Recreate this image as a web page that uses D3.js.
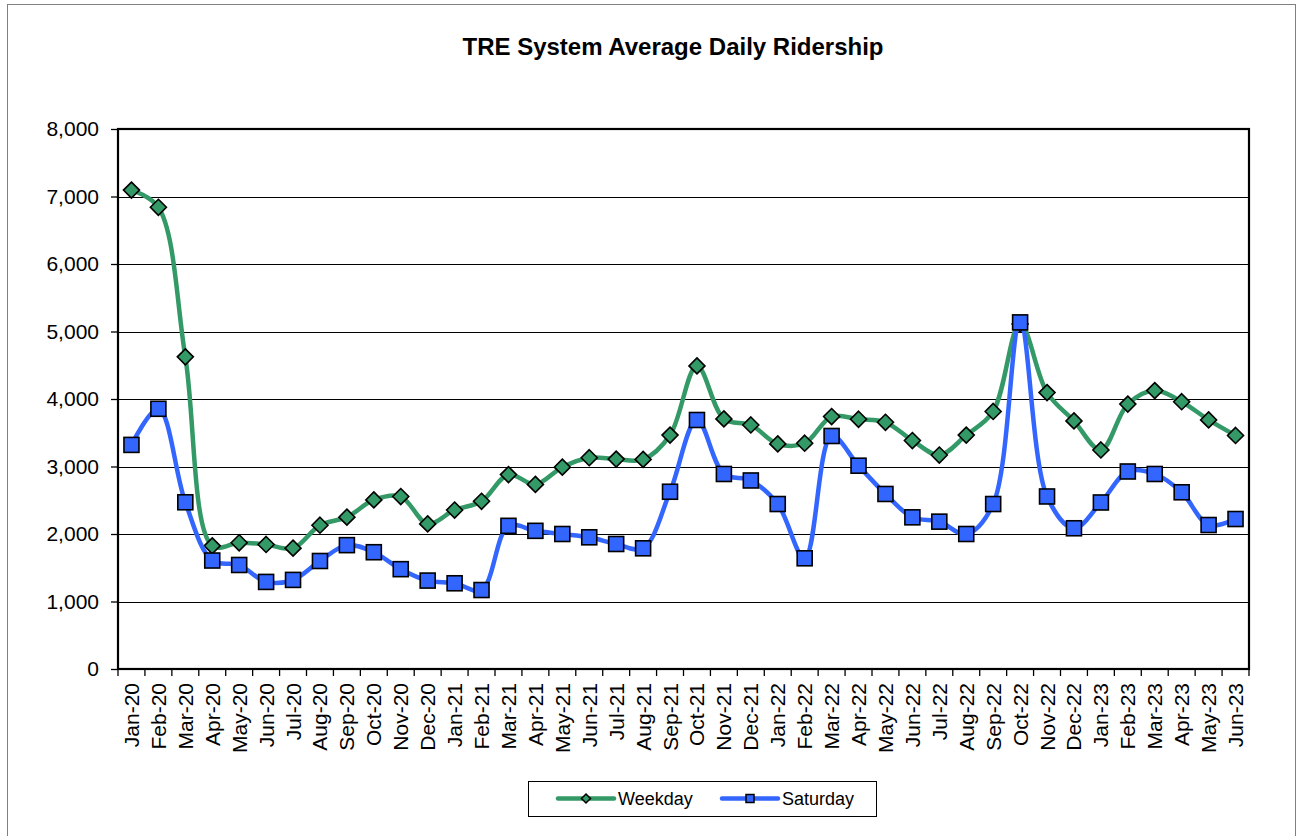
<!DOCTYPE html>
<html><head><meta charset="utf-8">
<script src="https://cdn.jsdelivr.net/npm/d3@7"></script>
<style>
body{margin:0;background:#fff}
svg{display:block}
text{font-family:"Liberation Sans",Arial,sans-serif;fill:#000}
</style></head>
<body>
<svg id="c" width="1302" height="836"></svg>
<script>
const months = ["Jan-20","Feb-20","Mar-20","Apr-20","May-20","Jun-20","Jul-20","Aug-20","Sep-20","Oct-20","Nov-20","Dec-20",
"Jan-21","Feb-21","Mar-21","Apr-21","May-21","Jun-21","Jul-21","Aug-21","Sep-21","Oct-21","Nov-21","Dec-21",
"Jan-22","Feb-22","Mar-22","Apr-22","May-22","Jun-22","Jul-22","Aug-22","Sep-22","Oct-22","Nov-22","Dec-22",
"Jan-23","Feb-23","Mar-23","Apr-23","May-23","Jun-23"];
const weekday = [7095,6840,4625,1825,1870,1845,1790,2130,2250,2505,2555,2150,
2355,2485,2880,2735,2990,3130,3110,3105,3465,4490,3705,3615,
3335,3345,3740,3700,3655,3385,3170,3465,3815,5110,4095,3675,
3245,3925,4125,3960,3690,3460];
const saturday = [3320,3855,2470,1607,1541,1290,1320,1600,1835,1730,1479,1310,
1270,1170,2121,2047,2000,1951,1852,1788,2626,3689,2889,2793,
2444,1640,3452,3012,2593,2247,2183,2000,2444,5135,2556,2085,
2467,2926,2889,2618,2133,2222];
const yTicks = [0,1000,2000,3000,4000,5000,6000,7000,8000];
const seriesNames = ["Weekday","Saturday"];
const title = "TRE System Average Daily Ridership";

const svg = d3.select("#c");
const L = 118, R = 1249, T = 129, B = 669;
const green = "#339966", blue = "#3366ff";

// outer chart border
svg.append("rect").attr("x",7.5).attr("y",4.5).attr("width",1288).attr("height",840)
  .attr("fill","none").attr("stroke","#808080").attr("stroke-width",1);

const x = d3.scaleBand().domain(months).range([L,R]).padding(0);
const y = d3.scaleLinear().domain([0,8000]).range([B,T]);
const cx = m => x(m) + x.bandwidth()/2;

// gridlines
svg.append("g").selectAll("line").data(yTicks.filter(t=>t>0 && t<8000)).join("line")
  .attr("x1",L).attr("x2",R).attr("y1",d=>Math.round(y(d))+0.5).attr("y2",d=>Math.round(y(d))+0.5)
  .attr("stroke","#000").attr("stroke-width",1);

// y axis
const yAxis = d3.axisLeft(y).tickValues(yTicks).tickSize(7).tickPadding(12).tickFormat(d3.format(","));
const gy = svg.append("g").attr("transform",`translate(${L},0)`).call(yAxis);
gy.select(".domain").remove();
gy.selectAll(".tick line").attr("stroke","#000").attr("stroke-width",1.3);
gy.selectAll(".tick text").attr("font-size",21).attr("font-family","Liberation Sans, Arial, sans-serif").attr("fill","#000");

// x axis ticks at band boundaries
const bounds = months.map(m=>x(m)).concat([R]);
svg.append("g").selectAll("line").data(bounds).join("line")
  .attr("x1",d=>d).attr("x2",d=>d).attr("y1",B).attr("y2",B+7)
  .attr("stroke","#000").attr("stroke-width",1.3);
svg.append("g").selectAll("text").data(months).join("text")
  .attr("transform",d=>`translate(${cx(d)},${B+14}) rotate(-90)`)
  .attr("text-anchor","end").attr("dominant-baseline","central")
  .attr("font-size",21).text(d=>d);

// plot border
svg.append("rect").attr("x",L).attr("y",T).attr("width",R-L).attr("height",B-T)
  .attr("fill","none").attr("stroke","#000").attr("stroke-width",2.2);

const line = d3.line().x((d,i)=>cx(months[i])).y(d=>y(d)).curve(d3.curveCatmullRom.alpha(0.5));
const diamond = s => `M0,${-s}L${s},0L0,${s}L${-s},0Z`;

function drawSeries(vals, color, kind){
  svg.append("path").attr("d",line(vals)).attr("fill","none").attr("stroke",color)
    .attr("stroke-width",4.5).attr("stroke-linejoin","round").attr("stroke-linecap","round");
  const g = svg.append("g");
  if(kind==="diamond"){
    g.selectAll("path").data(vals).join("path")
      .attr("transform",(d,i)=>`translate(${cx(months[i])},${y(d)})`)
      .attr("d",diamond(8)).attr("fill",color).attr("stroke","#000").attr("stroke-width",1.6);
  } else {
    g.selectAll("rect").data(vals).join("rect")
      .attr("x",(d,i)=>cx(months[i])-7.5).attr("y",d=>y(d)-7.5)
      .attr("width",15).attr("height",15).attr("fill",color).attr("stroke","#000").attr("stroke-width",1.6);
  }
}
drawSeries(weekday, green, "diamond");
drawSeries(saturday, blue, "square");

// title
svg.append("text").attr("x",673).attr("y",55).attr("text-anchor","middle")
  .attr("font-size",24).attr("font-weight","bold").text(title);

// legend
const lg = svg.append("g");
lg.append("rect").attr("x",528.5).attr("y",781.5).attr("width",348).attr("height",35)
  .attr("fill","#fff").attr("stroke","#000").attr("stroke-width",1);
const items = [{name:seriesNames[0],color:green,kind:"diamond",x0:558},{name:seriesNames[1],color:blue,kind:"square",x0:722}];
items.forEach(it=>{
  lg.append("line").attr("x1",it.x0).attr("x2",it.x0+56).attr("y1",798.5).attr("y2",798.5)
    .attr("stroke",it.color).attr("stroke-width",4.5).attr("stroke-linecap","round");
  if(it.kind==="diamond"){
    lg.append("path").attr("transform",`translate(${it.x0+28},798.5)`).attr("d",diamond(4.5))
      .attr("fill",it.color).attr("stroke","#000").attr("stroke-width",1.5);
  } else {
    lg.append("rect").attr("x",it.x0+24).attr("y",794.5).attr("width",8).attr("height",8)
      .attr("fill",it.color).attr("stroke","#000").attr("stroke-width",1.5);
  }
  lg.append("text").attr("x",it.x0+60).attr("y",798.5).attr("dominant-baseline","central")
    .attr("font-size",18).text(it.name);
});
</script>
</body></html>
